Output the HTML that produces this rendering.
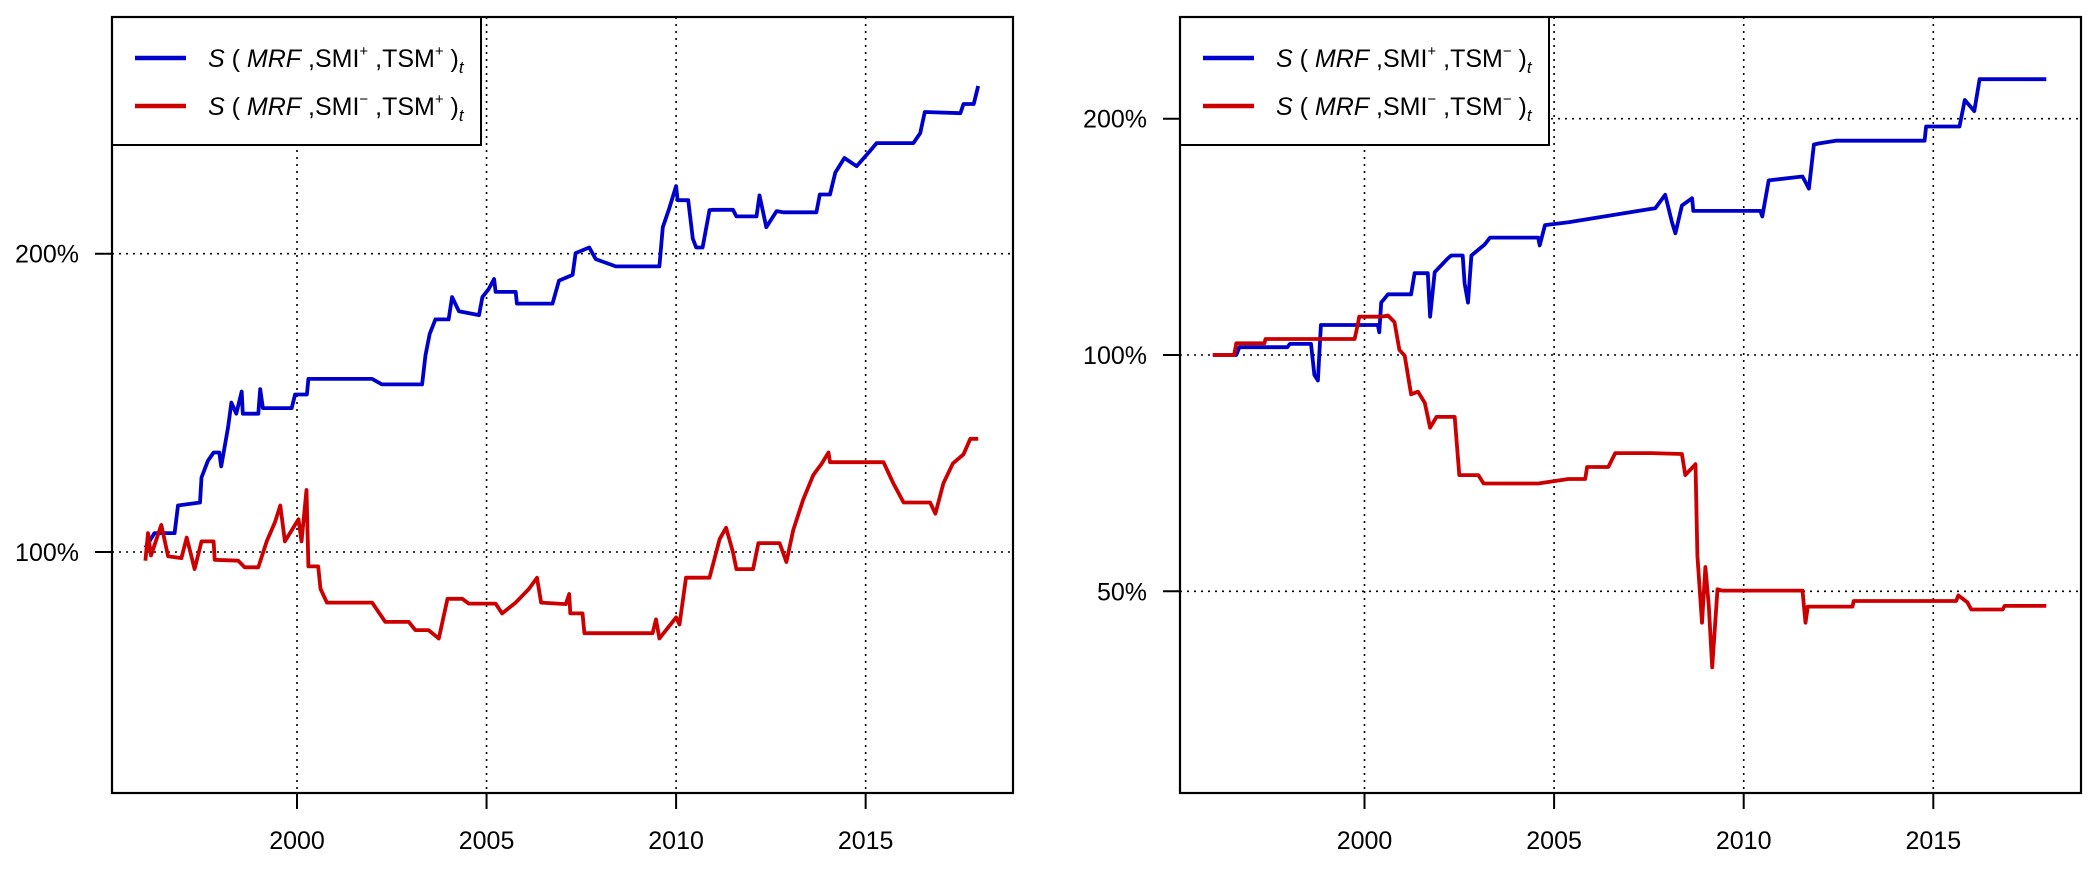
<!DOCTYPE html>
<html><head><meta charset="utf-8"><style>
html,body{margin:0;padding:0;background:#fff;}
svg{display:block;font-family:"Liberation Sans",Arial,sans-serif;}
</style></head><body>
<svg id="chart" width="2100" height="870" viewBox="0 0 2100 870" xmlns="http://www.w3.org/2000/svg"></svg>
<script>
// ---- data (year, percent) ----
const leftBlueYears=[1996.0,1996.24,1996.77,1996.86,1997.44,1997.48,1997.65,1997.8,1997.95,1998.0,1998.18,1998.27,1998.4,1998.54,1998.57,1998.98,1999.03,1999.1,1999.86,1999.95,2000.26,2000.3,2001.98,2002.24,2003.3,2003.39,2003.5,2003.65,2004.0,2004.09,2004.27,2004.8,2004.89,2005.06,2005.2,2005.24,2005.77,2005.8,2006.74,2006.91,2007.27,2007.35,2007.71,2007.88,2008.41,2009.56,2009.65,2009.82,2010.0,2010.04,2010.32,2010.44,2010.53,2010.7,2010.88,2010.97,2011.5,2011.59,2012.12,2012.2,2012.38,2012.65,2012.82,2013.7,2013.79,2014.06,2014.2,2014.44,2014.76,2015.08,2015.29,2016.26,2016.44,2016.56,2017.5,2017.58,2017.85,2017.97];
const leftBlueValues=[101,104.5,104.5,111.4,112.2,118.9,123.6,126,126,122,133.5,141.5,137.9,145.2,137.9,137.9,146,139.7,139.7,144.2,144.2,149.5,149.5,147.6,147.6,158,166,171.7,171.7,180.8,175,173.4,180.8,184.3,188.6,183,183,178.1,178.1,187.9,190.4,200.3,202.9,197.5,194.2,194.2,212.7,222.3,234,226.5,226.5,207.1,202.9,202.9,221.3,221.5,221.5,218.1,218.1,229,212.7,220.8,220.2,220.2,229.5,229.5,241.5,249.8,245.1,253,258.6,258.6,264.6,278,277.2,283.2,283.2,295.3];
const leftRedYears=[1996.0,1996.07,1996.15,1996.42,1996.6,1996.95,1997.09,1997.3,1997.48,1997.8,1997.83,1998.45,1998.62,1998.98,1999.2,1999.42,1999.56,1999.68,2000.04,2000.12,2000.25,2000.3,2000.56,2000.62,2000.79,2001.98,2002.33,2002.95,2003.12,2003.47,2003.74,2003.97,2004.36,2004.53,2005.24,2005.41,2005.77,2006.12,2006.33,2006.44,2007.09,2007.18,2007.21,2007.53,2007.58,2009.38,2009.47,2009.56,2010.0,2010.09,2010.26,2010.88,2011.15,2011.32,2011.5,2011.59,2012.03,2012.17,2012.73,2012.91,2013.09,2013.35,2013.62,2013.84,2014.02,2014.06,2015.47,2015.73,2016.0,2016.7,2016.84,2017.05,2017.3,2017.58,2017.76,2017.97];
const leftRedValues=[98,104.5,99.2,106.5,99,98.6,103.4,96.1,102.5,102.5,98.2,98,96.5,96.5,102.5,107.2,111.4,102.5,107.9,102.5,115.5,96.7,96.7,91.8,88.9,88.9,85,85,83.4,83.4,81.8,89.7,89.7,88.7,88.7,86.7,88.9,91.8,94.2,88.9,88.6,90.7,86.7,86.7,82.8,82.8,85.5,81.8,85.9,84.5,94.2,94.2,103.1,105.8,99.9,96.1,96.1,102.1,102.1,97.7,105.2,112.9,119.6,122.8,126,123.2,123.2,117.3,112.2,112.2,109.3,117.3,122.8,125.5,130.1,130.1];
const rightBlueYears=[1996.0,1996.62,1996.7,1997.97,1998.03,1998.59,1998.68,1998.77,1998.85,2000.35,2000.39,2000.44,2000.62,2001.23,2001.32,2001.67,2001.73,2001.85,2002.2,2002.29,2002.59,2002.64,2002.73,2002.82,2003.17,2003.31,2004.58,2004.62,2004.76,2005.38,2006.7,2007.67,2007.93,2008.11,2008.2,2008.37,2008.64,2008.67,2010.44,2010.49,2010.66,2011.55,2011.72,2011.85,2011.99,2012.43,2014.77,2014.81,2015.69,2015.83,2016.08,2016.22,2017.98];
const rightBlueValues=[100,100,102.3,102.3,103.3,103.3,94.3,92.8,109.2,109.2,106.9,116.6,119.5,119.5,127.1,127.1,111.9,127.5,132.8,133.9,133.9,123.4,116.6,133.9,138.3,141.1,141.1,137.9,146.4,147.6,151.2,153.8,160,147.6,142.9,155,158.4,152.6,152.6,150.1,166.9,168.8,162.9,185.4,186,187.5,187.5,195.5,195.5,211.3,204.5,224.6,224.6];
const rightRedYears=[1996.0,1996.56,1996.62,1997.36,1997.39,1999.74,1999.82,1999.86,2000.44,2000.62,2000.79,2000.92,2001.06,2001.23,2001.41,2001.59,2001.73,2001.9,2002.38,2002.5,2003.0,2003.14,2004.58,2005.38,2005.82,2005.87,2006.43,2006.61,2007.58,2008.37,2008.46,2008.73,2008.78,2008.9,2008.99,2009.08,2009.17,2009.31,2009.43,2011.55,2011.63,2011.69,2012.87,2012.9,2015.6,2015.66,2015.9,2016.0,2016.83,2016.88,2017.98];
const rightRedValues=[100,100,103.5,103.5,104.8,104.8,109.2,111.9,111.9,112.3,110.1,101.5,99.8,89.1,89.8,86.9,80.8,83.4,83.4,70.3,70.3,68.6,68.6,69.5,69.5,72,72,75,75,74.8,70.3,72.6,55.5,45.6,53.7,47.9,40,50.3,50.1,50.1,45.6,47.8,47.8,48.6,48.6,49.4,48.4,47.4,47.4,47.9,47.9];
const xTickYears=[2000,2005,2010,2015];
const leftYTicks=[100,200];
const leftYLabels=["100%","200%"];
const rightYTicks=[50,100,200];
const rightYLabels=["50%","100%","200%"];

const NS="http://www.w3.org/2000/svg";
const svg=document.getElementById('chart');
function mk(tag,attrs,parent){const e=document.createElementNS(NS,tag);for(const k in attrs)e.setAttribute(k,attrs[k]);(parent||svg).appendChild(e);return e;}

function panel(cfg){
  const g=mk('g',{});
  
  
  const xs=y=>cfg.x2000+(y-2000)*cfg.pxPerYear;
  const ys=v=>cfg.y100-Math.log2(v/100)*cfg.pxPerDouble;
  xTickYears.forEach(t=>{
    const l=mk('line',{x1:xs(t),x2:xs(t),y1:cfg.top,y2:cfg.bottom,stroke:'#000','stroke-width':1.6,'stroke-dasharray':'2 5'},g);
    
    
  });
  cfg.yTicks.forEach(t=>{
    const l=mk('line',{x1:cfg.left,x2:cfg.right,y1:ys(t),y2:ys(t),stroke:'#000','stroke-width':1.6,'stroke-dasharray':'2 5'},g);
    
    
  });
  cfg.series.forEach(s=>{
    const d=s.years.map((yr,i)=>(i?'L':'M')+xs(yr).toFixed(1)+','+ys(s.values[i]).toFixed(1)).join('');
    const p=mk('path',{d:d,fill:'none',stroke:s.color,'stroke-width':3.8,'stroke-linejoin':'round'},g);
    
    
  });
  const lg=mk('g',{},g);
  
  
  mk('rect',{x:cfg.left,y:cfg.top,width:cfg.legW,height:128,fill:'#fff',stroke:'#000','stroke-width':2},lg);
  cfg.series.forEach((s,i)=>{
    const yy=cfg.top+41+i*48;
    const ln=mk('line',{x1:cfg.left+23,x2:cfg.left+74,y1:yy,y2:yy,stroke:s.color,'stroke-width':4.5},lg);
    
    
    const t=mk('text',{x:cfg.left+96,y:yy+9,'font-size':25,fill:'#000'},lg);
    
    
    t.innerHTML='<tspan font-style="italic">S</tspan> ( <tspan font-style="italic">MRF</tspan> ,SMI<tspan font-size="15" dy="-11">'+s.smi+'</tspan><tspan dy="11"> ,TSM</tspan><tspan font-size="15" dy="-11">'+s.tsm+'</tspan><tspan dy="11"> )</tspan><tspan font-style="italic" font-size="17" dy="6">t</tspan>';
  });
  const b=mk('rect',{x:cfg.left,y:cfg.top,width:cfg.right-cfg.left,height:cfg.bottom-cfg.top,fill:'none',stroke:'#000','stroke-width':2.2},g);
  
  
  xTickYears.forEach(t=>{
    mk('line',{x1:xs(t),x2:xs(t),y1:cfg.bottom,y2:cfg.bottom+16,stroke:'#000','stroke-width':2},g);
    const tx=mk('text',{x:xs(t),y:849,'font-size':25,'text-anchor':'middle',fill:'#000'},g);
    tx.textContent=t;
    
    
  });
  cfg.yTicks.forEach((t,i)=>{
    mk('line',{x1:cfg.left-17,x2:cfg.left,y1:ys(t),y2:ys(t),stroke:'#000','stroke-width':2},g);
    const tx=mk('text',{x:cfg.left-33,y:ys(t)+9,'font-size':25,'text-anchor':'end',fill:'#000'},g);
    tx.textContent=cfg.yLabels[i];
    
    
  });
}

panel({name:'left-panel',left:112,right:1013,top:17,bottom:793,x2000:297,pxPerYear:37.91,y100:552,pxPerDouble:298.3,legW:369,
  yTicks:leftYTicks,yLabels:leftYLabels,
  series:[{name:'series-smi-plus-tsm-plus',color:'#0000cc',years:leftBlueYears,values:leftBlueValues,smi:'+',tsm:'+'},
          {name:'series-smi-minus-tsm-plus',color:'#cc0000',years:leftRedYears,values:leftRedValues,smi:'\u2212',tsm:'+'}]});
panel({name:'right-panel',left:1180,right:2081,top:17,bottom:793,x2000:1364.5,pxPerYear:37.92,y100:355,pxPerDouble:236.3,legW:369,
  yTicks:rightYTicks,yLabels:rightYLabels,
  series:[{name:'series-smi-plus-tsm-minus',color:'#0000cc',years:rightBlueYears,values:rightBlueValues,smi:'+',tsm:'\u2212'},
          {name:'series-smi-minus-tsm-minus',color:'#cc0000',years:rightRedYears,values:rightRedValues,smi:'\u2212',tsm:'\u2212'}]});
</script>
</body></html>
